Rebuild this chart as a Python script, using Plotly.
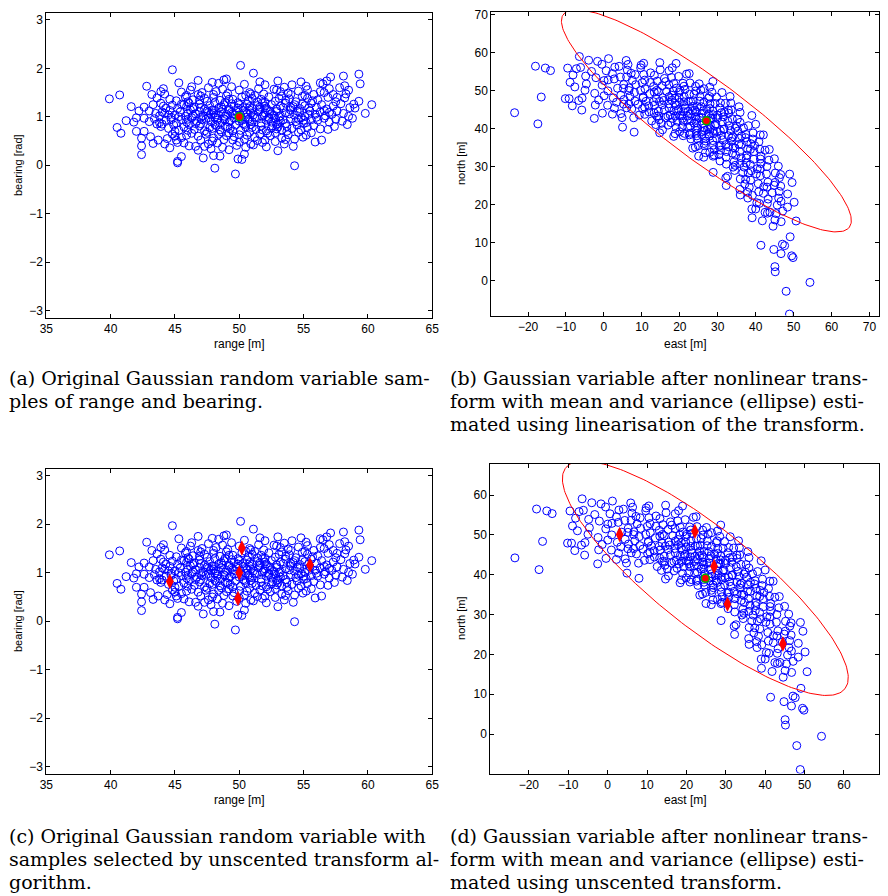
import numpy as np
import plotly.graph_objects as go

# ---------------------------------------------------------------------------
# Range / bearing samples of the Gaussian random variable (range in m,
# bearing in rad), listed band by band in bearing.
# ---------------------------------------------------------------------------
range_m = [
    # bearing above ~1.7
    44.8, 50.1, 51.1, 57.1, 58.1, 59.3, 48.8, 54.8, 56.8,
    # 1.6 - 1.8
    42.8, 47.6, 48.4, 49.4, 50.4, 52.0, 53.5, 54.1, 56.3, 56.5, 58.2, 59.4,
    46.3, 51.6, 53.0, 55.2, 49.0, 47.9,
    # 1.45 - 1.6
    40.7, 45.5, 47.1, 52.9, 52.7, 55.3, 56.6, 56.3, 58.3, 44.2, 46.2, 48.2,
    49.1, 50.0, 50.8, 51.5, 53.8, 54.6, 57.3, 48.7, 46.8, 51.9, 55.8, 43.9,
    # 1.3 - 1.45
    39.9, 43.6, 45.1, 55.7, 58.2, 59.3, 60.3, 44.6, 45.8, 46.4, 47.0, 47.5,
    48.0, 48.5, 49.0, 49.5, 50.2, 50.7, 51.2, 51.7, 52.3, 52.8, 53.3, 53.9,
    54.4, 54.9, 55.3, 56.1, 56.9, 57.5, 46.0, 48.9, 50.5, 52.0, 53.6, 47.3,
    51.0,
    # 1.15 - 1.3
    42.6, 43.3, 45.7, 43.9, 44.3, 44.8, 45.2, 46.1, 46.5, 46.9, 47.3, 47.7,
    48.1, 48.4, 48.8, 49.2, 49.6, 49.9, 50.3, 50.6, 51.0, 51.4, 51.8, 52.1,
    52.5, 52.9, 53.2, 53.6, 54.0, 54.3, 54.7, 55.1, 55.6, 56.0, 56.4, 56.8,
    57.3, 57.9, 58.6, 58.9, 45.9, 47.0, 48.6, 50.8, 53.4, 55.4, 44.1, 49.4,
    51.6, 54.9,
    # 1.0 - 1.15
    43.5, 44.2, 59.8, 57.2, 43.0, 43.8, 44.6, 45.0, 45.4, 45.8, 46.2, 46.6,
    46.9, 47.2, 47.6, 47.9, 48.2, 48.6, 48.9, 49.2, 49.5, 49.8, 50.1, 50.5,
    50.8, 51.1, 51.5, 51.8, 52.2, 52.5, 52.9, 53.2, 53.6, 54.0, 54.3, 54.7,
    55.1, 55.5, 55.9, 56.3, 56.7, 57.6, 58.1, 58.5, 44.0, 46.0, 48.0, 50.3,
    52.0, 54.5, 57.0, 49.0,
    # 0.85 - 1.0
    42.0, 42.6, 56.1, 58.0, 41.8, 43.0, 43.4, 43.8, 44.3, 44.7, 45.1, 45.5,
    45.9, 46.3, 46.7, 47.0, 47.4, 47.8, 48.1, 48.5, 48.9, 49.2, 49.6, 50.0,
    50.3, 50.7, 51.0, 51.4, 51.7, 52.1, 52.5, 52.8, 53.2, 53.6, 54.0, 54.4,
    54.8, 55.2, 55.6, 56.6, 57.0, 57.5, 58.8, 44.0, 46.0, 48.3, 50.5, 53.0,
    55.0, 47.6, 52.3,
    # 0.7 - 0.85
    40.5, 42.6, 43.6, 43.9, 54.8, 44.5, 44.9, 45.3, 45.7, 46.1, 46.5, 46.9,
    47.3, 47.7, 48.1, 48.5, 48.9, 49.3, 49.7, 50.1, 50.5, 50.9, 51.3, 51.7,
    52.1, 52.5, 52.9, 53.3, 53.7, 54.1, 54.5, 55.3, 55.8, 56.3, 57.4, 45.0,
    49.5, 51.0, 53.0,
    # 0.5 - 0.7
    40.8, 42.4, 43.1, 43.7, 44.4, 55.6, 54.95, 45.5, 45.9, 47.0, 46.3, 46.8,
    47.5, 48.0, 48.4, 48.8, 49.2, 49.6, 50.0, 50.4, 50.8, 51.2, 51.6, 52.0,
    52.4, 52.8, 53.3, 53.8, 54.3, 54.6, 44.8, 47.9, 51.4, 45.1,
    # 0.3 - 0.5
    42.4, 44.2, 46.1, 46.6, 47.3, 49.2, 51.1, 50.9, 52.1, 53.5, 45.2, 48.3,
    50.0, 52.8, 49.8, 47.8, 45.7,
    # below 0.3
    42.4, 45.2, 45.2, 45.5, 47.2, 48.1, 49.7, 48.0, 48.5, 49.9, 50.4, 50.2,
    54.3,
    # further samples in the central cloud
    46.4, 47.1, 47.8, 48.3, 48.7, 49.3, 49.7, 50.2, 50.6, 51.2, 51.6, 52.3,
    52.7, 53.4, 53.9, 47.5, 49.9, 52.0, 48.2, 50.4, 52.6, 46.6, 54.6, 55.4,
    45.3, 44.7, 56.0, 46.9, 49.2, 51.4, 53.1, 48.0, 50.9, 53.2, 45.9, 55.1,
    47.4, 49.0, 50.6, 52.2, 53.7, 46.0, 48.6, 51.8, 55.2, 45.0, 53.6, 49.5,
    47.6, 50.5, 51.8, 54.2, 46.8, 48.7, 53.0, 55.9, 44.6,
    42.2, 41.6, 43.2, 44.1, 45.3, 46.8, 57.8, 58.5, 57.0, 59.0, 58.4, 56.9,
    57.6, 41.2, 42.0, 43.3, 56.4,
    48.0, 49.4, 50.9, 52.4, 47.0, 48.8, 51.9, 53.1, 46.4, 54.2, 50.0, 49.1,
    50.8, 47.9, 52.9, 55.0, 44.5, 56.6, 45.5, 54.0,
]

bearing_rad = [
    # bearing above ~1.7
    1.97, 2.06, 1.90, 1.82, 1.84, 1.88, 1.76, 1.72, 1.74,
    # 1.6 - 1.8
    1.63, 1.60, 1.69, 1.62, 1.67, 1.66, 1.61, 1.66, 1.70, 1.68, 1.64, 1.68,
    1.62, 1.72, 1.74, 1.63, 1.78, 1.71,
    # 1.45 - 1.6
    1.45, 1.51, 1.50, 1.55, 1.57, 1.56, 1.50, 1.52, 1.47, 1.47, 1.55, 1.52,
    1.48, 1.55, 1.50, 1.58, 1.49, 1.53, 1.46, 1.57, 1.46, 1.47, 1.46, 1.52,
    # 1.3 - 1.45
    1.37, 1.39, 1.33, 1.33, 1.39, 1.32, 1.25, 1.36, 1.41, 1.35, 1.43, 1.32,
    1.40, 1.34, 1.43, 1.36, 1.41, 1.33, 1.44, 1.36, 1.41, 1.32, 1.43, 1.37,
    1.31, 1.42, 1.38, 1.35, 1.40, 1.31, 1.31, 1.30, 1.44, 1.30, 1.34, 1.38,
    1.38,
    # 1.15 - 1.3
    1.20, 1.25, 1.25, 1.28, 1.18, 1.24, 1.17, 1.28, 1.20, 1.26, 1.16, 1.23,
    1.29, 1.18, 1.25, 1.16, 1.22, 1.29, 1.19, 1.26, 1.17, 1.23, 1.29, 1.18,
    1.25, 1.16, 1.22, 1.28, 1.19, 1.25, 1.17, 1.23, 1.28, 1.19, 1.25, 1.16,
    1.22, 1.27, 1.19, 1.26, 1.21, 1.19, 1.21, 1.21, 1.19, 1.18, 1.22, 1.27,
    1.20, 1.27,
    # 1.0 - 1.15
    1.07, 1.07, 1.07, 1.05, 1.12, 1.02, 1.13, 1.04, 1.10, 1.01, 1.14, 1.06,
    1.11, 1.02, 1.09, 1.14, 1.04, 1.10, 1.01, 1.13, 1.06, 1.11, 1.03, 1.09,
    1.14, 1.04, 1.10, 1.01, 1.13, 1.06, 1.11, 1.02, 1.08, 1.14, 1.03, 1.09,
    1.01, 1.12, 1.05, 1.10, 1.02, 1.12, 1.07, 1.01, 1.10, 1.07, 1.07, 1.13,
    1.08, 1.12, 1.09, 1.05,
    # 0.85 - 1.0
    0.98, 0.97, 0.93, 0.91, 0.89, 0.90, 0.96, 0.88, 0.93, 0.99, 0.87, 0.94,
    0.89, 0.98, 0.91, 0.86, 0.95, 0.90, 0.99, 0.87, 0.94, 0.89, 0.97, 0.91,
    0.86, 0.95, 0.90, 0.98, 0.87, 0.93, 0.89, 0.97, 0.91, 0.86, 0.96, 0.90,
    0.98, 0.88, 0.94, 0.97, 0.89, 0.95, 0.97, 0.85, 0.95, 0.93, 0.99, 0.86,
    0.93, 0.98, 0.99,
    # 0.7 - 0.85
    0.78, 0.70, 0.85, 0.80, 0.73, 0.76, 0.83, 0.72, 0.79, 0.84, 0.74, 0.81,
    0.71, 0.78, 0.84, 0.73, 0.80, 0.76, 0.83, 0.72, 0.79, 0.84, 0.74, 0.81,
    0.71, 0.77, 0.84, 0.73, 0.80, 0.76, 0.83, 0.78, 0.82, 0.75, 0.80, 0.70,
    0.71, 0.78, 0.79,
    # 0.5 - 0.7
    0.66, 0.56, 0.59, 0.52, 0.55, 0.67, 0.58, 0.57, 0.62, 0.52, 0.66, 0.60,
    0.68, 0.56, 0.64, 0.53, 0.67, 0.59, 0.63, 0.54, 0.68, 0.58, 0.64, 0.52,
    0.61, 0.67, 0.56, 0.63, 0.54, 0.68, 0.64, 0.50, 0.51, 0.52,
    # 0.3 - 0.5
    0.40, 0.44, 0.40, 0.39, 0.39, 0.32, 0.42, 0.44, 0.38, 0.44, 0.47, 0.46,
    0.48, 0.49, 0.41, 0.34, 0.46,
    # below 0.3
    0.22, 0.05, 0.08, 0.18, 0.15, -0.06, -0.18, 0.20, 0.19, 0.13, 0.23, 0.12,
    -0.01,
    # further samples in the central cloud
    1.02, 0.94, 1.05, 0.97, 1.16, 0.92, 1.04, 0.95, 1.07, 0.99, 1.15, 0.96,
    1.03, 0.94, 1.06, 1.12, 1.18, 1.22, 0.82, 0.84, 0.81, 0.86, 0.95, 1.05,
    1.00, 0.94, 0.99, 1.34, 1.36, 1.31, 1.38, 1.46, 1.47, 1.52, 1.44, 1.44,
    0.64, 0.61, 0.62, 0.66, 0.70, 0.72, 0.69, 0.73, 0.62, 0.60, 0.53, 0.52,
    0.44, 0.37, 0.47, 0.39, 0.31, 0.37, 0.30, 0.48, 0.36,
    1.12, 1.21, 1.46, 1.58, 1.70, 1.75, 1.60, 1.55, 1.58, 1.18, 0.84, 0.74,
    1.40, 0.92, 0.70, 0.45, 0.52,
    1.13, 1.09, 1.08, 1.12, 0.99, 0.96, 1.04, 1.00, 1.17, 1.21, 1.25, 0.79,
    0.90, 0.76, 0.75, 0.86, 1.04, 1.13, 1.26, 1.46,
]

# Mean of the range/bearing variable
mean_range, mean_bearing = 50.0, 1.0

# Sigma points chosen by the unscented transform (range m, bearing rad)
sigma_range = [50.0, 44.6, 55.5, 50.2, 49.9]
sigma_bearing = [1.0, 0.82, 1.16, 1.51, 0.47]

# Unscented estimate of the transformed mean (east, north)
ut_mean_east, ut_mean_north = 24.8, 39.1

# Covariance ellipses: centre, semi-axes and orientation (degrees)
lin_ellipse = {"cx": 27.0, "cy": 42.1, "a": 47.0, "b": 10.5, "deg": -36.7}
ut_ellipse = {"cx": 24.8, "cy": 39.1, "a": 45.0, "b": 12.5, "deg": -38.0}

# Axis tick values
polar_x_ticks = [35, 40, 45, 50, 55, 60, 65]
polar_y_ticks = [-3, -2, -1, 0, 1, 2, 3]
b_x_ticks = [-20, -10, 0, 10, 20, 30, 40, 50, 60, 70]
b_y_ticks = [0, 10, 20, 30, 40, 50, 60, 70]
d_x_ticks = [-20, -10, 0, 10, 20, 30, 40, 50, 60]
d_y_ticks = [0, 10, 20, 30, 40, 50, 60]

captions = {
    "a": ["(a) Original Gaussian random variable sam-",
          "ples of range and bearing."],
    "b": ["(b) Gaussian variable after nonlinear trans-",
          "form with mean and variance (ellipse) esti-",
          "mated using linearisation of the transform."],
    "c": ["(c) Original Gaussian random variable with",
          "samples selected by unscented transform al-",
          "gorithm."],
    "d": ["(d) Gaussian variable after nonlinear trans-",
          "form with mean and variance (ellipse) esti-",
          "mated using unscented transform."],
}

# ---------------------------------------------------------------------------
W, H = 888, 896
r = np.array(range_m)
th = np.array(bearing_rad)
east = r * np.cos(th)
north = r * np.sin(th)

sr = np.array(sigma_range)
sb = np.array(sigma_bearing)
sig_east = sr * np.cos(sb)
sig_north = sr * np.sin(sb)

lin_mean_east = mean_range * np.cos(mean_bearing)
lin_mean_north = mean_range * np.sin(mean_bearing)


def ellipse_xy(e, n=240):
    t = np.linspace(0, 2 * np.pi, n)
    phi = np.deg2rad(e["deg"])
    x = e["cx"] + e["a"] * np.cos(t) * np.cos(phi) - e["b"] * np.sin(t) * np.sin(phi)
    y = e["cy"] + e["a"] * np.cos(t) * np.sin(phi) + e["b"] * np.sin(t) * np.cos(phi)
    return x, y


BLUE = "#0000ff"
RED = "#ff0000"
GREEN = "#00b000"

samples_marker = dict(symbol="circle-open", size=8, color=BLUE, line=dict(width=1, color=BLUE))
mean_marker = dict(symbol="circle", size=8, color=RED, line=dict(width=1.5, color=GREEN))
sigma_marker = dict(symbol="diamond-tall", size=11, color=RED, line=dict(width=0))

fig = go.Figure()

# (a) range / bearing samples
fig.add_trace(go.Scatter(x=r, y=th, mode="markers", marker=samples_marker, xaxis="x", yaxis="y"))
fig.add_trace(go.Scatter(x=[mean_range], y=[mean_bearing], mode="markers", marker=mean_marker,
                         xaxis="x", yaxis="y"))

# (b) transformed samples with linearised ellipse
ex, ey = ellipse_xy(lin_ellipse)
fig.add_trace(go.Scatter(x=east, y=north, mode="markers", marker=samples_marker, xaxis="x2", yaxis="y2"))
fig.add_trace(go.Scatter(x=ex, y=ey, mode="lines", line=dict(color=RED, width=1), xaxis="x2", yaxis="y2"))
fig.add_trace(go.Scatter(x=[lin_mean_east], y=[lin_mean_north], mode="markers", marker=mean_marker,
                         xaxis="x2", yaxis="y2"))

# (c) samples with sigma points
fig.add_trace(go.Scatter(x=r, y=th, mode="markers", marker=samples_marker, xaxis="x3", yaxis="y3"))
fig.add_trace(go.Scatter(x=sr, y=sb, mode="markers", marker=sigma_marker, xaxis="x3", yaxis="y3"))

# (d) transformed samples with unscented ellipse
ux, uy = ellipse_xy(ut_ellipse)
fig.add_trace(go.Scatter(x=east, y=north, mode="markers", marker=samples_marker, xaxis="x4", yaxis="y4"))
fig.add_trace(go.Scatter(x=ux, y=uy, mode="lines", line=dict(color=RED, width=1), xaxis="x4", yaxis="y4"))
fig.add_trace(go.Scatter(x=sig_east, y=sig_north, mode="markers", marker=sigma_marker,
                         xaxis="x4", yaxis="y4"))
fig.add_trace(go.Scatter(x=[ut_mean_east], y=[ut_mean_north], mode="markers", marker=mean_marker,
                         xaxis="x4", yaxis="y4"))


def xdom(left, right):
    return [left / W, right / W]


def ydom(top, bottom):
    return [1 - bottom / H, 1 - top / H]


def axis(dom, rng, ticks, anchor):
    return dict(
        domain=dom, range=rng, tickvals=ticks, anchor=anchor,
        showline=True, mirror="ticks", linecolor="black", linewidth=1,
        ticks="inside", ticklen=4, tickcolor="black", tickwidth=1,
        showgrid=False, zeroline=False,
        tickfont=dict(family="Liberation Sans, Arial, sans-serif", size=12, color="black"),
    )


panels = {
    "a": dict(x=(40, 432), y=(9, 315)),
    "b": dict(x=(492, 886), y=(8, 313)),
    "c": dict(x=(40, 432), y=(467, 773)),
    "d": dict(x=(491, 886), y=(462, 773)),
}

fig.update_layout(
    width=W, height=H, margin=dict(l=0, r=0, t=0, b=0),
    paper_bgcolor="white", plot_bgcolor="white", showlegend=False,
    xaxis=axis(xdom(*panels["a"]["x"]), [35, 65], polar_x_ticks, "y"),
    yaxis=axis(ydom(*panels["a"]["y"]), [-np.pi, np.pi], polar_y_ticks, "x"),
    xaxis2=axis(xdom(*panels["b"]["x"]), [-29.7, 72.5], b_x_ticks, "y2"),
    yaxis2=axis(ydom(*panels["b"]["y"]), [-9.3, 70.8], b_y_ticks, "x2"),
    xaxis3=axis(xdom(*panels["c"]["x"]), [35, 65], polar_x_ticks, "y3"),
    yaxis3=axis(ydom(*panels["c"]["y"]), [-np.pi, np.pi], polar_y_ticks, "x3"),
    xaxis4=axis(xdom(*panels["d"]["x"]), [-29.8, 68.9], d_x_ticks, "y4"),
    yaxis4=axis(ydom(*panels["d"]["y"]), [-9.9, 67.8], d_y_ticks, "x4"),
)

label_font = dict(family="Liberation Sans, Arial, sans-serif", size=12, color="black")
ylabel_font = dict(family="Liberation Sans, Arial, sans-serif", size=11, color="black")
annotations = []


def add_text(text, px, py, font, angle=0, xanchor="center"):
    annotations.append(dict(text=text, x=px / W, y=1 - py / H, xref="paper", yref="paper",
                            showarrow=False, font=font, textangle=angle,
                            xanchor=xanchor, yanchor="middle"))


# axis titles
add_text("range [m]", 236, 342, label_font)
add_text("bearing [rad]", 11, 162, ylabel_font, angle=-90)
add_text("east [m]", 689, 342, label_font)
add_text("north [m]", 462, 160, ylabel_font, angle=-90)
add_text("range [m]", 236, 800, label_font)
add_text("bearing [rad]", 11, 620, ylabel_font, angle=-90)
add_text("east [m]", 689, 800, label_font)
add_text("north [m]", 462, 617, ylabel_font, angle=-90)

# captions
cap_font = dict(family="DejaVu Serif, serif", size=19, color="black")
cap_pos = {"a": (0, 376), "b": (448, 376), "c": (0, 836), "d": (448, 836)}
for key, lines in captions.items():
    x0, y0 = cap_pos[key]
    for i, line in enumerate(lines):
        add_text(line, x0, y0 + 23 * i, cap_font, xanchor="left")

fig.update_layout(annotations=annotations)
fig.write_html("out.html")
